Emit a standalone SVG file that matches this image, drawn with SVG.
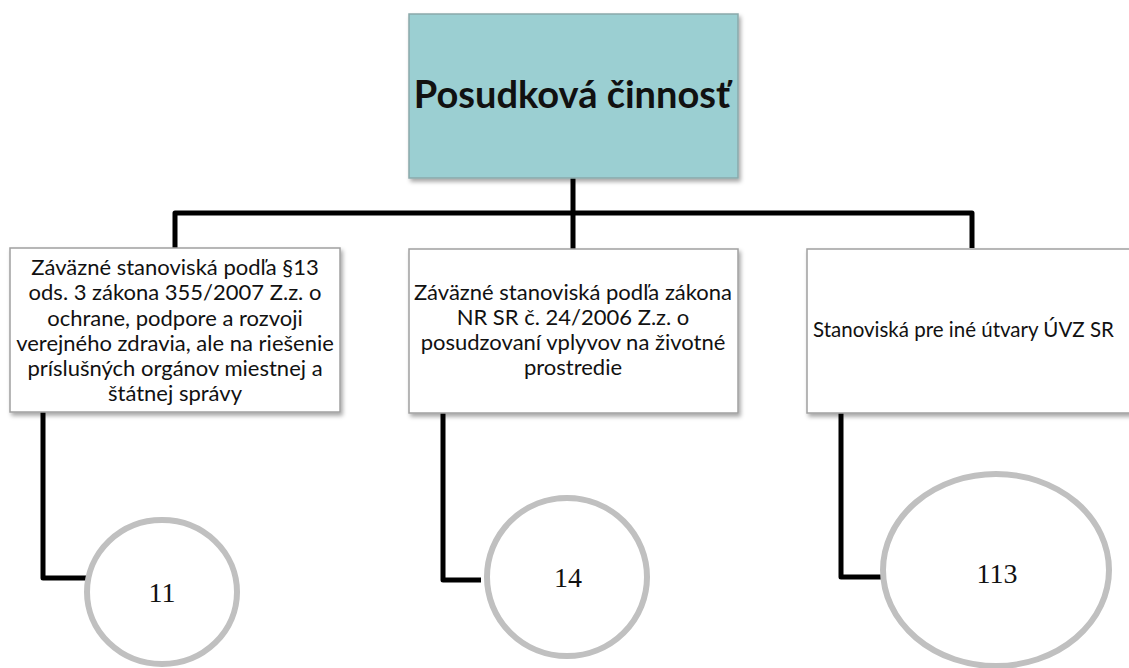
<svg xmlns="http://www.w3.org/2000/svg" width="1129" height="668" viewBox="0 0 1129 668">
<defs>
<filter id="sh" x="-5%" y="-5%" width="112%" height="115%">
<feDropShadow dx="2" dy="3" stdDeviation="2" flood-color="#000" flood-opacity="0.35"/>
</filter>
<style>
.box{fill:#fff;stroke:#a0a0a0;stroke-width:1.5;filter:url(#sh)}
.top{fill:#9bcfd2;stroke:#8aa9ab;stroke-width:1.5;filter:url(#sh)}
.t{font-family:Lato,"Liberation Sans",sans-serif;font-size:22px;fill:#111;text-anchor:middle}
.h{font-family:Lato,"Liberation Sans",sans-serif;font-size:38px;font-weight:bold;fill:#111;text-anchor:middle}
.c{fill:#fff;stroke:#c0c0c0;stroke-width:6}
.n{font-family:"Liberation Serif",serif;font-size:28px;fill:#111;text-anchor:middle}
.ln{fill:none;stroke:#000;stroke-width:5;stroke-linejoin:round}
</style>
</defs>
<rect width="1129" height="668" fill="#fff"/>
<g id="connectors">
<path class="ln" d="M573 178 V213 M175 248 V213 H972 V248 M573 213 V249"/>
<path class="ln" d="M43 412 V578 H88"/>
<path class="ln" d="M443 413 V580 H481"/>
<path class="ln" d="M841 413 V577 H883"/>
</g>
<g id="root">
<rect class="top" x="409" y="14" width="329" height="164"/>
<text class="h" x="572" y="108">Posudková činnosť</text>
</g>
<g id="node1">
<rect class="box" x="10" y="248" width="330" height="164"/>
<text class="t" x="175" y="275">Záväzné stanoviská podľa §13</text>
<text class="t" x="175" y="300">ods. 3 zákona 355/2007 Z.z. o</text>
<text class="t" x="175" y="326">ochrane, podpore a rozvoji</text>
<text class="t" x="175" y="351">verejného zdravia, ale na riešenie</text>
<text class="t" x="175" y="376">príslušných orgánov miestnej a</text>
<text class="t" x="175" y="401">štátnej správy</text>
</g>
<g id="node2">
<rect class="box" x="409" y="249" width="329" height="164"/>
<text class="t" x="573" y="300">Záväzné stanoviská podľa zákona</text>
<text class="t" x="573" y="325">NR SR č. 24/2006 Z.z. o</text>
<text class="t" x="573" y="350">posudzovaní vplyvov na životné</text>
<text class="t" x="573" y="375">prostredie</text>
</g>
<g id="node3">
<rect class="box" x="807" y="249" width="340" height="164"/>
<text class="t" x="813" y="337" style="text-anchor:start;font-size:20.5px">Stanoviská pre iné útvary ÚVZ SR</text>
</g>
<g id="count1">
<ellipse class="c" cx="162" cy="592" rx="75" ry="72"/>
<text class="n" x="162" y="602">11</text>
</g>
<g id="count2">
<ellipse class="c" cx="567" cy="577" rx="80" ry="79"/>
<text class="n" x="568" y="587">14</text>
</g>
<g id="count3">
<ellipse class="c" cx="996" cy="570" rx="113" ry="96"/>
<text class="n" x="997" y="583">113</text>
</g>
</svg>
